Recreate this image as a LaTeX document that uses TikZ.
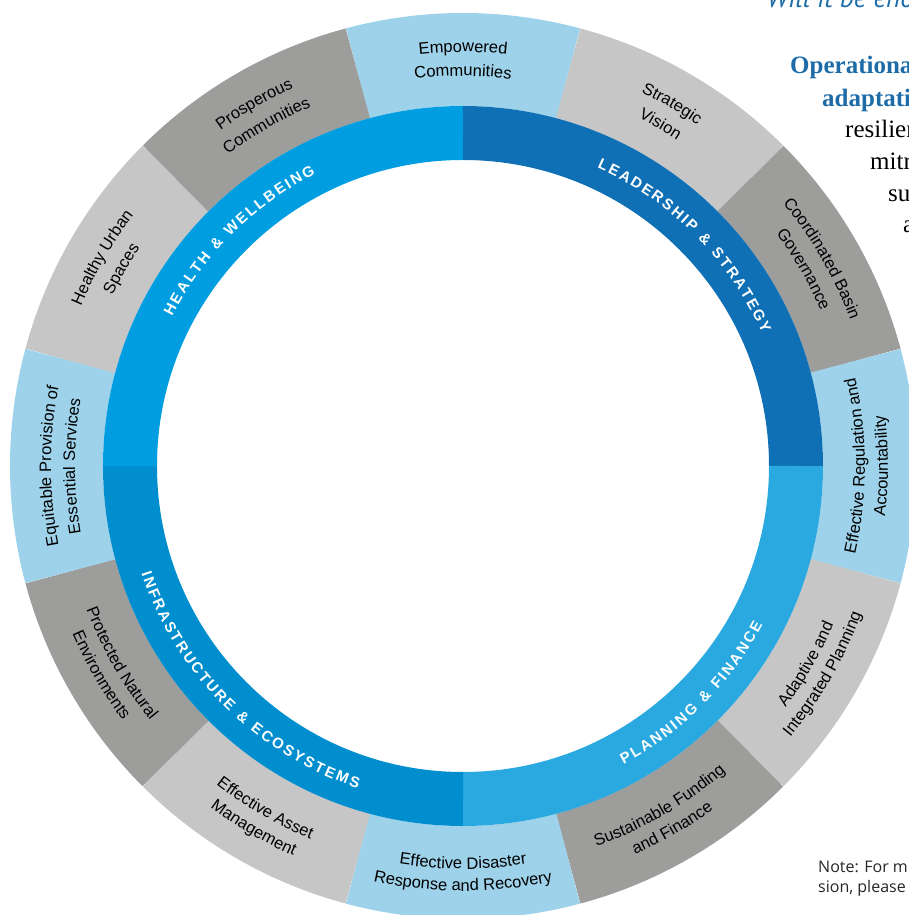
\documentclass[tikz,border=0pt]{standalone}
\usepackage{fontspec}
\setmainfont{Liberation Sans}
\newfontfamily\segfont{Liberation Sans}
\newfontfamily\ringfont{Liberation Sans}
\newfontfamily\bodyfont{Liberation Serif}
\newfontfamily\quotefont{PT Sans}
\newfontfamily\notefont{Open Sans}
\usetikzlibrary{decorations.text}
\definecolor{segblue}{HTML}{9DD2EA}
\definecolor{seglight}{HTML}{C6C6C6}
\definecolor{segdark}{HTML}{9D9D9C}
\definecolor{health}{HTML}{009EE0}
\definecolor{leader}{HTML}{1070B6}
\definecolor{planning}{HTML}{2AA8E0}
\definecolor{infra}{HTML}{008ECF}
\definecolor{headblue}{HTML}{1D6CA8}

\begin{document}
\begin{tikzpicture}[seg/.style={line width=93pt},ring/.style={line width=54pt},
  segtxt/.style={decorate,decoration={text along path,text align=center,
    text={|\segfont\fontsize{16.5}{16.5}\selectfont|#1}}},
  ringtxt/.style={decorate,decoration={text along path,text align=center,text color=white,
    text={|\ringfont\bfseries\fontsize{15}{15}\selectfont\kern2.1pt|#1}}},
  bodytxt/.style={anchor=base west,inner sep=0pt}]
  \clip (-463pt,-449pt) rectangle (446pt,466pt);

  % text of the page behind the wheel
  \node[bodytxt,text=headblue,font=\quotefont\itshape\fontsize{27}{27}\selectfont] (q) at (304pt,458pt) {Will it be eno};
  \node[bodytxt,text=headblue,font=\bodyfont\bfseries\fontsize{25}{25}\selectfont] (h1) at (327pt,392pt) {Operationa};
  \node[bodytxt,text=headblue,font=\bodyfont\bfseries\fontsize{25}{25}\selectfont] (h2) at (359pt,359pt) {adaptati};
  \node[bodytxt,font=\bodyfont\fontsize{25}{25}\selectfont] (b1) at (382pt,328pt) {resilien};
  \node[bodytxt,font=\bodyfont\fontsize{25}{25}\selectfont] (b2) at (407pt,296pt) {mitr};
  \node[bodytxt,font=\bodyfont\fontsize{25}{25}\selectfont] (b3) at (425pt,264pt) {su};
  \node[bodytxt,font=\bodyfont\fontsize{25}{25}\selectfont] (b4) at (440pt,233pt) {a};
  \node[bodytxt,text=black!85,font=\notefont\fontsize{16}{16}\selectfont] (n1) at (355pt,-406pt) {Note: For m};
  \node[bodytxt,text=black!85,font=\notefont\fontsize{16}{16}\selectfont] (n2) at (355pt,-426pt) {sion, please};

  % outer segments
  \draw[seg,segblue] (75:406.5pt) arc[start angle=75,end angle=105,radius=406.5pt];
  \draw[seg,seglight] (45:406.5pt) arc[start angle=45,end angle=75,radius=406.5pt];
  \draw[seg,segdark] (15:406.5pt) arc[start angle=15,end angle=45,radius=406.5pt];
  \draw[seg,segblue] (-15:406.5pt) arc[start angle=-15,end angle=15,radius=406.5pt];
  \draw[seg,seglight] (-45:406.5pt) arc[start angle=-45,end angle=-15,radius=406.5pt];
  \draw[seg,segdark] (-75:406.5pt) arc[start angle=-75,end angle=-45,radius=406.5pt];
  \draw[seg,segblue] (-105:406.5pt) arc[start angle=-105,end angle=-75,radius=406.5pt];
  \draw[seg,seglight] (-135:406.5pt) arc[start angle=-135,end angle=-105,radius=406.5pt];
  \draw[seg,segdark] (-165:406.5pt) arc[start angle=-165,end angle=-135,radius=406.5pt];
  \draw[seg,segblue] (165:406.5pt) arc[start angle=165,end angle=195,radius=406.5pt];
  \draw[seg,seglight] (135:406.5pt) arc[start angle=135,end angle=165,radius=406.5pt];
  \draw[seg,segdark] (105:406.5pt) arc[start angle=105,end angle=135,radius=406.5pt];

  % inner ring
  \draw[ring,health] (90:333pt) arc[start angle=90,end angle=180,radius=333pt];
  \draw[ring,leader] (0:333pt) arc[start angle=0,end angle=90,radius=333pt];
  \draw[ring,planning] (-90:333pt) arc[start angle=-90,end angle=0,radius=333pt];
  \draw[ring,infra] (180:333pt) arc[start angle=180,end angle=270,radius=333pt];

  % segment labels, upper half
  \path[segtxt=Empowered] (105:414pt) arc[start angle=105,end angle=75,radius=414pt];
  \path[segtxt=Communities] (105:390pt) arc[start angle=105,end angle=75,radius=390pt];
  \path[segtxt=Strategic] (75:414pt) arc[start angle=75,end angle=45,radius=414pt];
  \path[segtxt=Vision] (75:390pt) arc[start angle=75,end angle=45,radius=390pt];
  \path[segtxt=Coordinated Basin] (45:414pt) arc[start angle=45,end angle=15,radius=414pt];
  \path[segtxt=Governance] (45:390pt) arc[start angle=45,end angle=15,radius=390pt];
  \path[segtxt=Prosperous] (135:414pt) arc[start angle=135,end angle=105,radius=414pt];
  \path[segtxt=Communities] (135:390pt) arc[start angle=135,end angle=105,radius=390pt];
  \path[segtxt=Healthy Urban] (165:414pt) arc[start angle=165,end angle=135,radius=414pt];
  \path[segtxt=Spaces] (165:390pt) arc[start angle=165,end angle=135,radius=390pt];
  \path[segtxt=Equitable Provision of] (195:412pt) arc[start angle=195,end angle=165,radius=412pt];
  \path[segtxt=Essential Services] (195:388pt) arc[start angle=195,end angle=165,radius=388pt];

  % segment labels, lower half
  \path[segtxt=Effective Regulation and] (-15:402pt) arc[start angle=-15,end angle=15,radius=402pt];
  \path[segtxt=Accountability] (-15:425pt) arc[start angle=-15,end angle=15,radius=425pt];
  \path[segtxt=Adaptive and] (-45:403pt) arc[start angle=-45,end angle=-15,radius=403pt];
  \path[segtxt=Integrated Planning] (-45:425pt) arc[start angle=-45,end angle=-15,radius=425pt];
  \path[segtxt=Sustainable Funding] (-75:403pt) arc[start angle=-75,end angle=-45,radius=403pt];
  \path[segtxt=and Finance] (-75:425pt) arc[start angle=-75,end angle=-45,radius=425pt];
  \path[segtxt=Effective Disaster] (-105:403pt) arc[start angle=-105,end angle=-75,radius=403pt];
  \path[segtxt=Response and Recovery] (-105:425pt) arc[start angle=-105,end angle=-75,radius=425pt];
  \path[segtxt=Effective Asset] (-135:403pt) arc[start angle=-135,end angle=-105,radius=403pt];
  \path[segtxt=Management] (-135:425pt) arc[start angle=-135,end angle=-105,radius=425pt];
  \path[segtxt=Protected Natural] (-165:403pt) arc[start angle=-165,end angle=-135,radius=403pt];
  \path[segtxt=Environments] (-165:425pt) arc[start angle=-165,end angle=-135,radius=425pt];

  % ring labels
  \path[ringtxt={HEALTH {\&} WELLBEING}] (175:327pt) arc[start angle=175,end angle=95,radius=327pt];
  \path[ringtxt={LEADERSHIP {\&} STRATEGY}] (85:327pt) arc[start angle=85,end angle=5,radius=327pt];
  \path[ringtxt={PLANNING {\&} FINANCE}] (-85:339pt) arc[start angle=-85,end angle=-5,radius=339pt];
  \path[ringtxt={INFRASTRUCTURE {\&} ECOSYSTEMS}] (185:339pt) arc[start angle=185,end angle=265,radius=339pt];
\end{tikzpicture}
\end{document}
